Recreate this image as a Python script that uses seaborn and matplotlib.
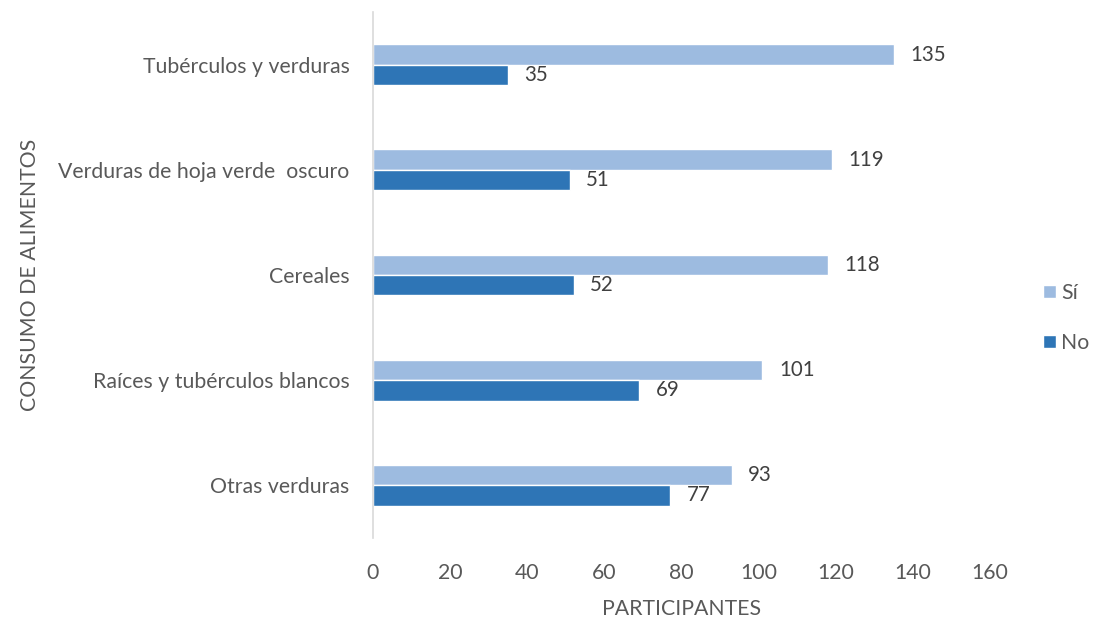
import matplotlib
matplotlib.use("Agg")
import matplotlib.pyplot as plt
import seaborn as sns
import pandas as pd

# Food consumption survey: participants answering Sí / No per food group
categorias = ["Tubérculos y verduras", "Verduras de hoja verde  oscuro", "Cereales",
              "Raíces y tubérculos blancos", "Otras verduras"]
si = [135, 119, 118, 101, 93]
no = [35, 51, 52, 69, 77]
respuestas = ["Sí", "No"]
x_ticks = [0, 20, 40, 60, 80, 100, 120, 140, 160]

df = pd.DataFrame({
    "categoria": categorias * 2,
    "respuesta": ["Sí"] * len(categorias) + ["No"] * len(categorias),
    "valor": si + no,
})

sns.set_theme(style="white")
plt.rcParams["font.family"] = ["Lato", "DejaVu Sans"]

FS = 15.3
GREY = "#595959"

fig = plt.figure(figsize=(10.99, 6.18), dpi=100)
ax = fig.add_axes([0.3394, 0.130, 0.5614, 0.850])

palette = {"Sí": "#9DBBE0", "No": "#2E75B6"}
sns.barplot(data=df, y="categoria", x="valor", hue="respuesta", order=categorias,
            hue_order=respuestas, palette=palette, orient="h", width=0.39,
            saturation=1, ax=ax, legend=True)

# value labels next to each bar
for cont in ax.containers:
    ax.bar_label(cont, labels=[f"{v:.0f}" for v in cont.datavalues], padding=12,
                 fontsize=14.8, color="#404040")

ax.set_xlim(0, 160)
ax.set_xticks(x_ticks)
ax.set_ylim(4.5, -0.5)

for s in ["top", "right", "bottom"]:
    ax.spines[s].set_visible(False)
ax.spines["left"].set_color("#D9D9D9")
ax.spines["left"].set_linewidth(1.2)

ax.tick_params(axis="both", length=0, labelsize=FS, labelcolor=GREY)
ax.tick_params(axis="y", pad=17)
ax.tick_params(axis="x", pad=18)

ax.set_xlabel("PARTICIPANTES", fontsize=FS, color=GREY, labelpad=12)
ax.set_ylabel("CONSUMO DE ALIMENTOS", fontsize=FS, color=GREY)
ax.yaxis.set_label_coords(-0.54, 0.5)

leg = ax.legend(loc="center left", bbox_to_anchor=(1.062, 0.418), frameon=False,
                fontsize=FS, handlelength=0.6, handleheight=0.6,
                handletextpad=0.25, labelspacing=1.4, borderaxespad=0.3)
for t in leg.get_texts():
    t.set_color(GREY)

fig.savefig("out.png", dpi=100)
